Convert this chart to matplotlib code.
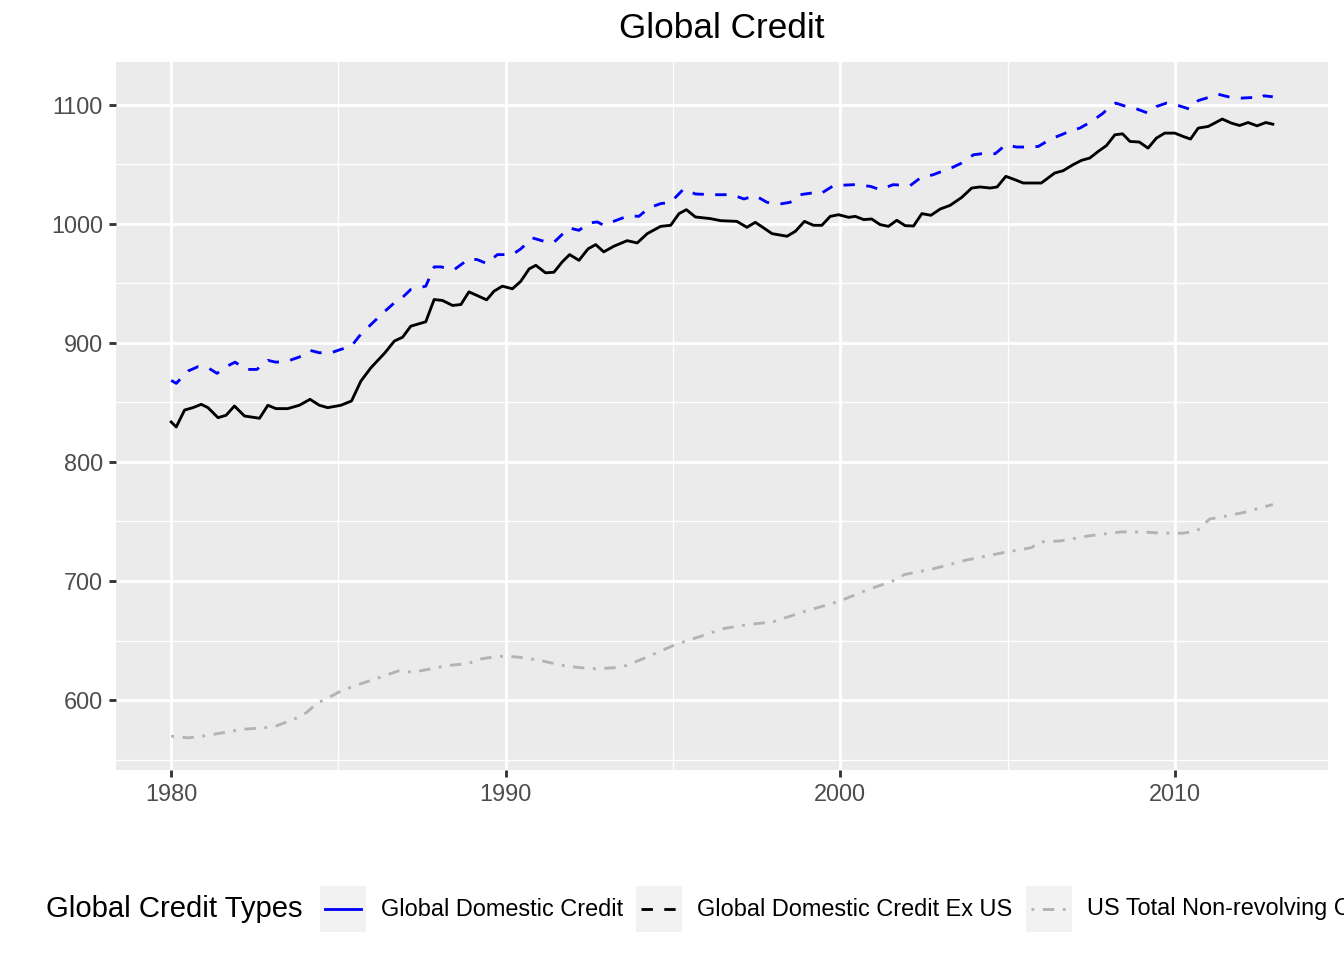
import matplotlib
matplotlib.use("Agg")
import matplotlib.pyplot as plt
from matplotlib.lines import Line2D
from matplotlib.patches import Rectangle
from matplotlib.ticker import MultipleLocator

plt.rcParams['font.family'] = ['Liberation Sans', 'DejaVu Sans']

# ---------------- data ----------------
series_names = ["Global Domestic Credit", "Global Domestic Credit Ex US",
                "US Total Non-revolving Credit"]

gdc_years = [1980.0, 1980.15, 1980.5, 1980.8, 1981.1, 1981.37, 1981.64, 1981.91, 1982.24, 1982.56,
             1982.89, 1983.13, 1983.48, 1983.83, 1984.15, 1984.43, 1984.78, 1985.07, 1985.39, 1985.62,
             1985.97, 1986.39, 1986.67, 1986.92, 1987.16, 1987.61, 1987.86, 1988.06, 1988.46, 1988.9,
             1989.15, 1989.43, 1989.75, 1990.2, 1990.45, 1990.8, 1991.14, 1991.44, 1991.89, 1992.19,
             1992.49, 1992.74, 1992.93, 1993.28, 1993.68, 1993.98, 1994.28, 1994.63, 1994.93, 1995.32,
             1995.67, 1996.17, 1996.77, 1997.12, 1997.46, 1997.81, 1998.2, 1998.5, 1998.8, 1999.15,
             1999.4, 1999.8, 2000.4, 2000.9, 2001.19, 2001.58, 2002.09, 2002.39, 2002.78, 2003.03,
             2003.38, 2003.63, 2003.98, 2004.23, 2004.63, 2004.95, 2005.27, 2005.62, 2005.92, 2006.31,
             2006.61, 2006.91, 2007.16, 2007.51, 2007.86, 2008.06, 2008.24, 2008.55, 2008.85, 2009.2,
             2009.45, 2009.75, 2010.1, 2010.45, 2010.7, 2011.0, 2011.29, 2011.64, 2011.99, 2012.34,
             2012.49, 2012.66, 2012.93]
gdc_values = [868.4, 865.9, 876.2, 879.9, 879.0, 874.3, 879.9, 883.7, 877.6, 877.6,
              885.2, 883.7, 884.6, 888.0, 893.6, 891.6, 891.6, 894.4, 897.2, 905.5,
              915.3, 926.5, 933.5, 938.2, 944.7, 947.5, 963.7, 963.7, 961.4, 970.4,
              969.8, 966.5, 974.0, 974.0, 978.8, 988.0, 985.2, 984.3, 996.4, 994.4,
              1000.6, 1001.4, 998.6, 1002.5, 1006.7, 1006.1, 1013.2, 1016.8, 1017.9, 1029.1,
              1024.9, 1024.3, 1024.3, 1020.7, 1023.5, 1017.9, 1016.5, 1017.9, 1024.3, 1025.7,
              1024.9, 1031.9, 1032.7, 1031.3, 1028.5, 1032.7, 1031.9, 1038.3, 1041.1, 1043.8,
              1047.5, 1050.9, 1057.8, 1058.7, 1058.7, 1066.2, 1064.3, 1064.3, 1064.8, 1071.3,
              1074.6, 1078.2, 1080.2, 1085.7, 1092.8, 1098.3, 1101.2, 1098.3, 1096.4, 1092.8,
              1098.3, 1101.2, 1099.2, 1096.1, 1103.3, 1105.9, 1108.7, 1106.2, 1105.4, 1105.9,
              1104.8, 1107.3, 1106.5]

exus_years = [1980.0, 1980.15, 1980.4, 1980.65, 1980.9, 1981.1, 1981.4, 1981.64, 1981.89, 1982.19,
              1982.64, 1982.89, 1983.13, 1983.48, 1983.83, 1984.15, 1984.43, 1984.68, 1985.07, 1985.39,
              1985.67, 1985.97, 1986.39, 1986.67, 1986.92, 1987.16, 1987.61, 1987.86, 1988.11, 1988.41,
              1988.66, 1988.9, 1989.15, 1989.43, 1989.65, 1989.9, 1990.2, 1990.45, 1990.7, 1990.9,
              1991.19, 1991.44, 1991.69, 1991.91, 1992.19, 1992.46, 1992.69, 1992.93, 1993.23, 1993.63,
              1993.93, 1994.23, 1994.63, 1994.93, 1995.18, 1995.4, 1995.67, 1996.12, 1996.42, 1996.91,
              1997.21, 1997.46, 1997.71, 1997.96, 1998.41, 1998.66, 1998.93, 1999.2, 1999.45, 1999.7,
              1999.95, 2000.25, 2000.45, 2000.7, 2000.94, 2001.19, 2001.44, 2001.69, 2001.94, 2002.19,
              2002.44, 2002.71, 2002.99, 2003.28, 2003.63, 2003.93, 2004.18, 2004.48, 2004.69, 2004.95,
              2005.22, 2005.47, 2006.01, 2006.41, 2006.66, 2006.96, 2007.21, 2007.46, 2007.71, 2007.96,
              2008.21, 2008.44, 2008.66, 2008.94, 2009.2, 2009.45, 2009.7, 2010.0, 2010.25, 2010.47,
              2010.7, 2011.0, 2011.19, 2011.42, 2011.69, 2011.94, 2012.19, 2012.46, 2012.72, 2012.93]
exus_values = [833.5, 829.3, 843.5, 845.5, 848.3, 845.5, 837.1, 839.1, 846.9, 838.5,
               836.6, 847.5, 844.7, 844.7, 847.5, 852.5, 847.5, 845.5, 847.5, 851.1,
               867.8, 879.0, 891.6, 901.4, 904.7, 913.9, 917.6, 936.3, 935.5, 931.3,
               932.1, 942.7, 939.6, 936.0, 943.3, 947.5, 945.3, 951.6, 962.0, 965.0,
               958.7, 959.2, 967.9, 974.0, 969.2, 978.8, 982.4, 976.3, 981.0, 985.7,
               983.8, 991.6, 997.7, 998.6, 1008.4, 1011.7, 1005.6, 1004.2, 1002.5, 1001.9,
               996.9, 1001.1, 996.4, 991.6, 989.4, 993.6, 1001.9, 998.6, 998.6, 1006.1,
               1007.5, 1005.3, 1006.1, 1003.4, 1003.9, 999.2, 997.7, 1002.8, 998.3, 998.0,
               1008.4, 1007.0, 1012.3, 1015.3, 1022.0, 1029.9, 1030.8, 1029.9, 1030.8, 1039.7,
               1036.9, 1034.1, 1034.1, 1042.5, 1044.4, 1049.5, 1053.1, 1055.1, 1060.6, 1065.6,
               1074.6, 1075.4, 1069.0, 1068.5, 1063.4, 1071.8, 1076.0, 1076.0, 1073.2, 1071.0,
               1080.2, 1081.6, 1084.4, 1087.8, 1084.4, 1082.4, 1084.9, 1082.1, 1084.9, 1083.5]

us_years = [1980.0, 1980.5, 1981.08, 1981.65, 1982.1, 1982.8, 1983.13, 1983.7, 1984.04, 1984.38,
            1984.61, 1985.07, 1985.52, 1986.21, 1986.78, 1987.23, 1987.69, 1988.26, 1988.88, 1989.17,
            1989.62, 1989.97, 1990.54, 1991.1, 1991.79, 1992.24, 1992.7, 1993.27, 1993.61, 1994.18,
            1994.75, 1995.09, 1995.77, 1996.54, 1997.15, 1998.0, 1998.92, 1999.96, 2000.82, 2001.55,
            2001.92, 2002.78, 2003.76, 2004.86, 2005.72, 2005.96, 2006.57, 2007.43, 2008.41, 2009.02,
            2009.63, 2010.24, 2010.67, 2011.04, 2011.47, 2012.08, 2012.93]
us_values = [569.7, 568.3, 570.3, 573.1, 575.4, 576.8, 578.2, 584.3, 589.4, 597.8,
             600.6, 607.6, 612.3, 618.8, 624.4, 623.5, 625.8, 629.1, 630.5, 634.2,
             636.1, 637.0, 635.6, 632.8, 628.6, 627.2, 626.3, 627.2, 629.1, 635.6,
             642.6, 646.8, 653.0, 660.2, 663.0, 665.8, 674.3, 682.8, 692.7, 699.7,
             705.4, 710.2, 717.5, 723.7, 728.0, 732.8, 733.6, 737.9, 741.2, 741.2,
             740.1, 740.1, 742.1, 752.0, 754.2, 757.6, 764.2]

x_breaks = [1980, 1990, 2000, 2010]
y_breaks = [600, 700, 800, 900, 1000, 1100]

# ---------------- figure ----------------
W, H = 1344, 960
fig = plt.figure(figsize=(W / 100, H / 100), dpi=100)
fig.patch.set_facecolor('white')
ax = fig.add_axes([116 / W, 1 - 770 / H, (1328 - 116) / W, (770 - 62) / H])
ax.set_facecolor('#EBEBEB')

LW = 2.05
blue_style = dict(color='#0000FF', lw=LW, ls=(0, (4, 4)))
black_style = dict(color='black', lw=LW, ls='-')
gray_style = dict(color='#B3B3B3', lw=LW, ls=(0, (1, 3, 4, 3)))

ax.plot(gdc_years, gdc_values, solid_joinstyle='round', dash_joinstyle='round', **blue_style)
ax.plot(exus_years, exus_values, solid_joinstyle='round', **black_style)
ax.plot(us_years, us_values, dash_joinstyle='round', **gray_style)

ax.set_xlim(1978.35, 2014.58)
ax.set_ylim(541.3, 1135.7)
ax.set_xticks(x_breaks)
ax.set_yticks(y_breaks)
ax.xaxis.set_minor_locator(MultipleLocator(5))
ax.yaxis.set_minor_locator(MultipleLocator(50))
ax.grid(which='major', color='white', lw=2.05)
ax.grid(which='minor', color='white', lw=1.0)
ax.set_axisbelow(True)
for s in ax.spines.values():
    s.set_visible(False)
ax.tick_params(which='major', length=5.3, width=2.05, color='#333333',
               labelsize=16.9, labelcolor='#4D4D4D', pad=4.2)
ax.tick_params(which='minor', length=0)

fig.text(722 / W, 1 - 28 / H, 'Global Credit', ha='center', va='center', fontsize=25.3)

# ---------------- legend (bottom, horizontal) ----------------
ly = 1 - 909 / H
fig.text(46 / W, ly, 'Global Credit Types', ha='left', va='center', fontsize=21.1)
key_left = [320, 636, 1026]
label_left = [381, 697, 1087]
key_styles = [dict(color='#0000FF', lw=LW, ls='-'),
              dict(color='black', lw=LW, ls=(0, (4, 4))),
              dict(color='#B3B3B3', lw=LW, ls=(0, (1, 3, 4, 3)))]
for kx, lx, name, st in zip(key_left, label_left, series_names, key_styles):
    fig.patches.append(Rectangle((kx / W, 1 - 932 / H), 46 / W, 46 / H,
                                 transform=fig.transFigure, facecolor='#F2F2F2',
                                 edgecolor='none'))
    fig.lines.append(Line2D([(kx + 4.6) / W, (kx + 41.4) / W], [ly, ly],
                            transform=fig.transFigure, **st))
    fig.text(lx / W, ly, name, ha='left', va='center', fontsize=16.9)

fig.savefig('out.png', dpi=100)
